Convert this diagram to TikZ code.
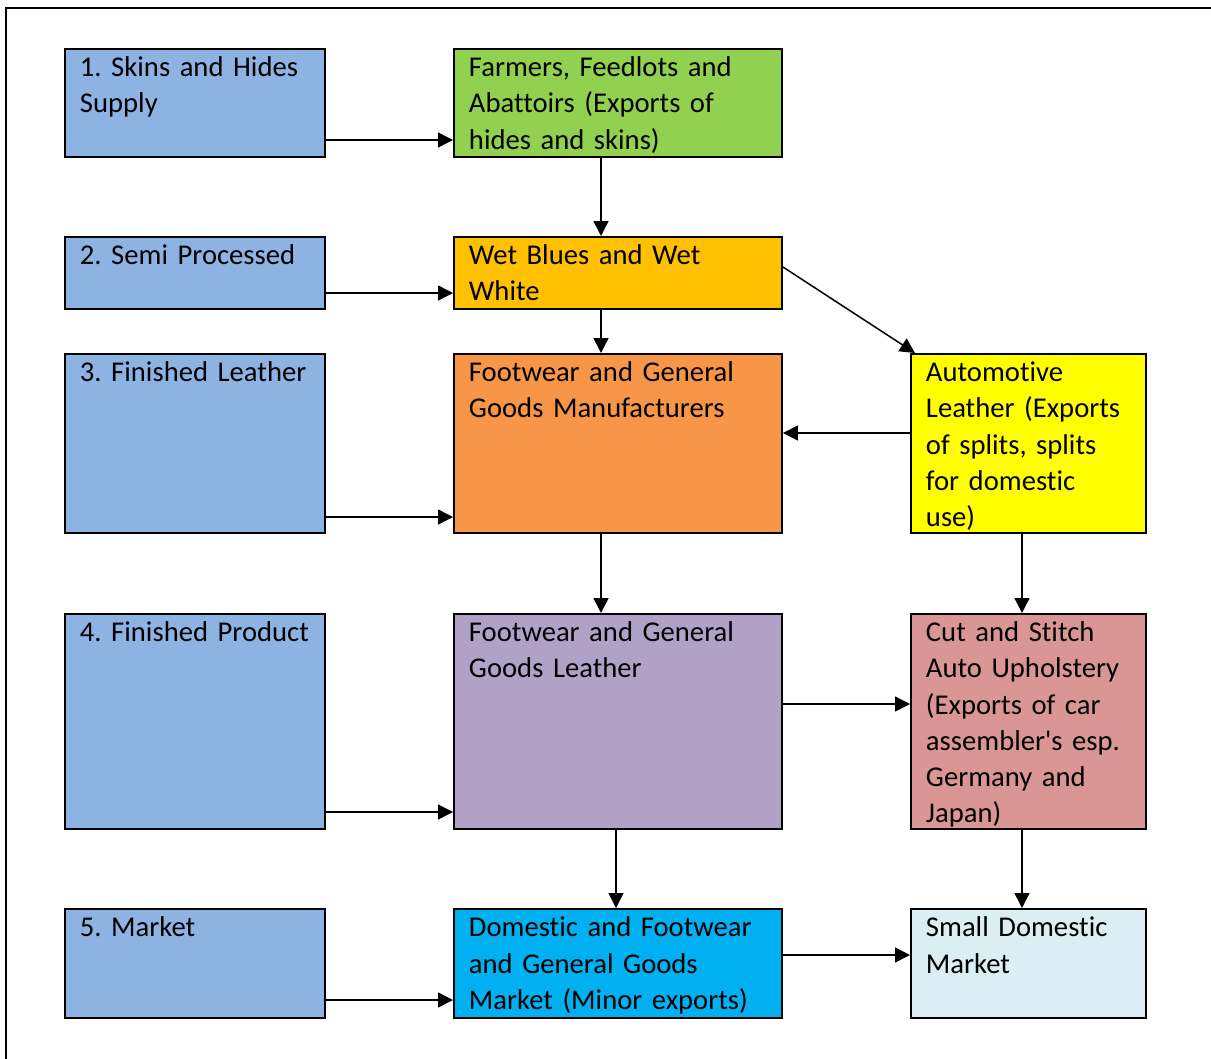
\documentclass[tikz,border=0pt]{standalone}
\usepackage{fontspec}
\setmainfont{Carlito}[Ligatures={NoCommon}]
\usetikzlibrary{arrows.meta, calc}
\frenchspacing
\hyphenpenalty=10000
\definecolor{stageblue}{HTML}{8DB3E2}
\definecolor{farmgreen}{HTML}{92D050}
\definecolor{wetorange}{HTML}{FFC000}
\definecolor{manuforange}{HTML}{F79646}
\definecolor{autoyellow}{HTML}{FFFF00}
\definecolor{leatherpurple}{HTML}{B2A1C7}
\definecolor{cutpink}{HTML}{D99694}
\definecolor{domcyan}{HTML}{00B0F0}
\definecolor{smallblue}{HTML}{DAEEF3}

\begin{document}
\begin{tikzpicture}[>={Triangle[length=0.3cm, width=0.3cm]},
  stage/.style={draw, line width=1.1pt, anchor=north west, align=left,
    inner xsep=0.3cm, inner ysep=0pt, text height=0.56cm,
    font=\fontsize{16.3pt}{20.5pt}\selectfont},
  leftcol/.style={stage, fill=stageblue, text width=4.6cm},
  midcol/.style={stage, text width=5.96cm},
  rightcol/.style={stage, text width=4.1cm},
  flow/.style={->, line width=0.85pt}]

% Page and frame
\useasboundingbox (0,0) rectangle (24.22,-21.16);
\draw[line width=1.7pt] (0.12,-21.3) -- (0.12,-0.16) -- (24.4,-0.16);

% Left column: stages
\node[leftcol, text depth=1.60cm] (skins) at (1.28,-0.96) {1. Skins and Hides\\Supply};
\node[leftcol, text depth=0.88cm] (semi) at (1.28,-4.72) {2. Semi Processed};
\node[leftcol, text depth=3.02cm] (finished) at (1.28,-7.06) {3. Finished Leather};
\node[leftcol, text depth=3.74cm] (product) at (1.28,-12.26) {4. Finished Product};
\node[leftcol, text depth=1.62cm] (market) at (1.28,-18.16) {5. Market};

% Middle column
\node[midcol, fill=farmgreen, text depth=1.60cm] (farmers) at (9.06,-0.96)
  {Farmers, Feedlots and\\Abattoirs (Exports of\\hides and skins)};
\node[midcol, fill=wetorange, text depth=0.88cm] (wetblue) at (9.06,-4.72)
  {Wet Blues and Wet\\White};
\node[midcol, fill=manuforange, text depth=3.02cm] (manuf) at (9.06,-7.06)
  {Footwear and General\\Goods Manufacturers};
\node[midcol, fill=leatherpurple, text depth=3.74cm] (goodsleather) at (9.06,-12.26)
  {Footwear and General\\Goods Leather};
\node[midcol, fill=domcyan, text depth=1.62cm] (domestic) at (9.06,-18.16)
  {Domestic and Footwear\\and General Goods\\Market (Minor exports)};

% Right column
\node[rightcol, fill=autoyellow, text depth=3.02cm] (automotive) at (18.20,-7.06)
  {Automotive\\Leather (Exports\\of splits, splits\\for domestic\\use)};
\node[rightcol, fill=cutpink, text depth=3.74cm] (cutstitch) at (18.20,-12.26)
  {Cut and Stitch\\Auto Upholstery\\(Exports of car\\assembler\textquotesingle s esp.\\Germany and\\Japan)};
\node[rightcol, fill=smallblue, text depth=1.62cm] (smallmkt) at (18.20,-18.16)
  {Small Domestic\\Market};

% Stage arrows
\draw[flow] (skins.east |- 0,-2.80) -- (farmers.west |- 0,-2.80);
\draw[flow] (semi.east |- 0,-5.86) -- (wetblue.west |- 0,-5.86);
\draw[flow] (finished.east |- 0,-10.34) -- (manuf.west |- 0,-10.34);
\draw[flow] (product.east |- 0,-16.24) -- (goodsleather.west |- 0,-16.24);
\draw[flow] (market.east |- 0,-20.00) -- (domestic.west |- 0,-20.00);

% Chain arrows
\draw[flow] (farmers.south -| 12.02,0) -- (wetblue.north -| 12.02,0);
\draw[flow] (wetblue.south -| 12.02,0) -- (manuf.north -| 12.02,0);
\draw[flow] (wetblue.east |- 0,-5.34) -- ($(automotive.north west)+(0.1,0)$);
\draw[flow] (automotive.west |- 0,-8.66) -- (manuf.east |- 0,-8.66);
\draw[flow] (manuf.south -| 12.02,0) -- (goodsleather.north -| 12.02,0);
\draw[flow] (automotive.south -| 20.44,0) -- (cutstitch.north -| 20.44,0);
\draw[flow] (goodsleather.east |- 0,-14.08) -- (cutstitch.west |- 0,-14.08);
\draw[flow] (goodsleather.south -| 12.32,0) -- (domestic.north -| 12.32,0);
\draw[flow] (cutstitch.south -| 20.44,0) -- (smallmkt.north -| 20.44,0);
\draw[flow] (domestic.east |- 0,-19.10) -- (smallmkt.west |- 0,-19.10);

\end{tikzpicture}
\end{document}
